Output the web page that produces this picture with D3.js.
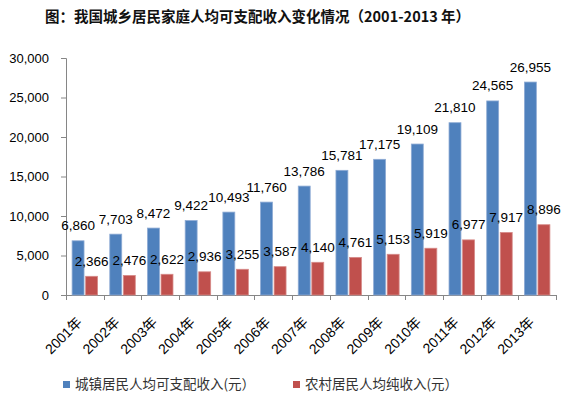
<!DOCTYPE html>
<html>
<head>
<meta charset="utf-8">
<script src="https://cdn.jsdelivr.net/npm/d3@7"></script>
<style>
  body { margin: 0; background: #fff; }
  svg { display: block; }
</style>
</head>
<body>
<svg width="565" height="399"></svg>
<script>
// data
let years = ["2001年", "2002年", "2003年", "2004年", "2005年", "2006年", "2007年",
             "2008年", "2009年", "2010年", "2011年", "2012年", "2013年"];
let urban = [6860, 7703, 8472, 9422, 10493, 11760, 13786, 15781, 17175, 19109, 21810, 24565, 26955];
let rural = [2366, 2476, 2622, 2936, 3255, 3587, 4140, 4761, 5153, 5919, 6977, 7917, 8896];
let seriesNames = ["城镇居民人均可支配收入(元）", "农村居民人均纯收入(元）"];
let yTicks = [0, 5000, 10000, 15000, 20000, 25000, 30000];

let colors = ["#4F81BD", "#C0504D"];
let latin = "'Liberation Sans', Arial, sans-serif";
let cjk = "'Noto Sans CJK SC', sans-serif";
let mixed = "'Liberation Sans', 'Noto Sans CJK SC', sans-serif";

let svg = d3.select("svg");
let margin = { top: 58, left: 66, right: 9, bottom: 104 };
let width = 565 - margin.left - margin.right;
let height = 399 - margin.top - margin.bottom;

let g = svg.append("g").attr("transform", `translate(${margin.left},${margin.top})`);

let x = d3.scaleBand().domain(years).range([0, width]);
let xs = d3.scaleBand().domain([0, 1]).range([0, x.bandwidth()])
    .paddingInner(0.12).paddingOuter(0.45);
let y = d3.scaleLinear().domain([0, 30000]).range([height, 0]);

// title
svg.append("text")
    .attr("x", 45).attr("y", 22)
    .attr("font-family", cjk).attr("font-size", 14.5).attr("font-weight", "bold")
    .attr("fill", "#111")
    .text("图：我国城乡居民家庭人均可支配收入变化情况（2001-2013 年）");

// y axis
let yAxis = g.append("g")
    .call(d3.axisLeft(y).tickValues(yTicks).tickFormat(d3.format(",")).tickSize(5).tickPadding(12));
yAxis.select(".domain").attr("stroke", "#868686").attr("d", `M-5,0.5H0.5V${height + 0.5}H-5`);
yAxis.selectAll(".tick line").attr("stroke", "#868686");
yAxis.selectAll(".tick text").attr("font-family", latin).attr("font-size", 13).attr("fill", "#000");

// x axis (ticks on category boundaries)
let xa = g.append("g").attr("transform", `translate(0,${height})`);
xa.append("line").attr("x1", 0).attr("x2", width).attr("y1", 0.5).attr("y2", 0.5).attr("stroke", "#868686");
let bounds = years.map(d => x(d)).concat([width]);
xa.selectAll(".xt").data(bounds).enter().append("line")
    .attr("x1", d => Math.round(d) + 0.5).attr("x2", d => Math.round(d) + 0.5)
    .attr("y1", 0).attr("y2", 5).attr("stroke", "#868686");
xa.selectAll(".xl").data(years).enter().append("text")
    .attr("transform", d => `translate(${x(d) + x.bandwidth() / 2 - 2},${28}) rotate(-45)`)
    .attr("text-anchor", "end")
    .attr("font-family", mixed).attr("font-size", 14).attr("fill", "#000")
    .text(d => d);

// bars
let sets = [urban, rural];
sets.forEach((vals, s) => {
    let grp = g.append("g");
    grp.selectAll("rect").data(vals).enter().append("rect")
        .attr("x", (d, i) => x(years[i]) + xs(s))
        .attr("width", xs.bandwidth())
        .attr("y", d => y(d))
        .attr("height", d => height - y(d))
        .attr("fill", colors[s])
        .attr("stroke", s === 0 ? "#8eabd4" : "#d68a88")
        .attr("stroke-width", 0.8);
    grp.selectAll("text").data(vals).enter().append("text")
        .attr("x", (d, i) => x(years[i]) + xs(s) + xs.bandwidth() / 2)
        .attr("y", d => y(d) - 10.5)
        .attr("text-anchor", "middle")
        .attr("font-family", latin).attr("font-size", 13.5).attr("fill", "#000")
        .text(d => d3.format(",")(d));
});

// legend
let legendX = [63, 293];
seriesNames.forEach((name, s) => {
    let lg = svg.append("g").attr("transform", `translate(${legendX[s]},381)`);
    lg.append("rect").attr("width", 7).attr("height", 7).attr("fill", colors[s]);
    lg.append("text").attr("x", 12).attr("y", 8)
        .attr("font-family", cjk).attr("font-size", 13.5).attr("fill", "#333")
        .text(name);
});
</script>
</body>
</html>
